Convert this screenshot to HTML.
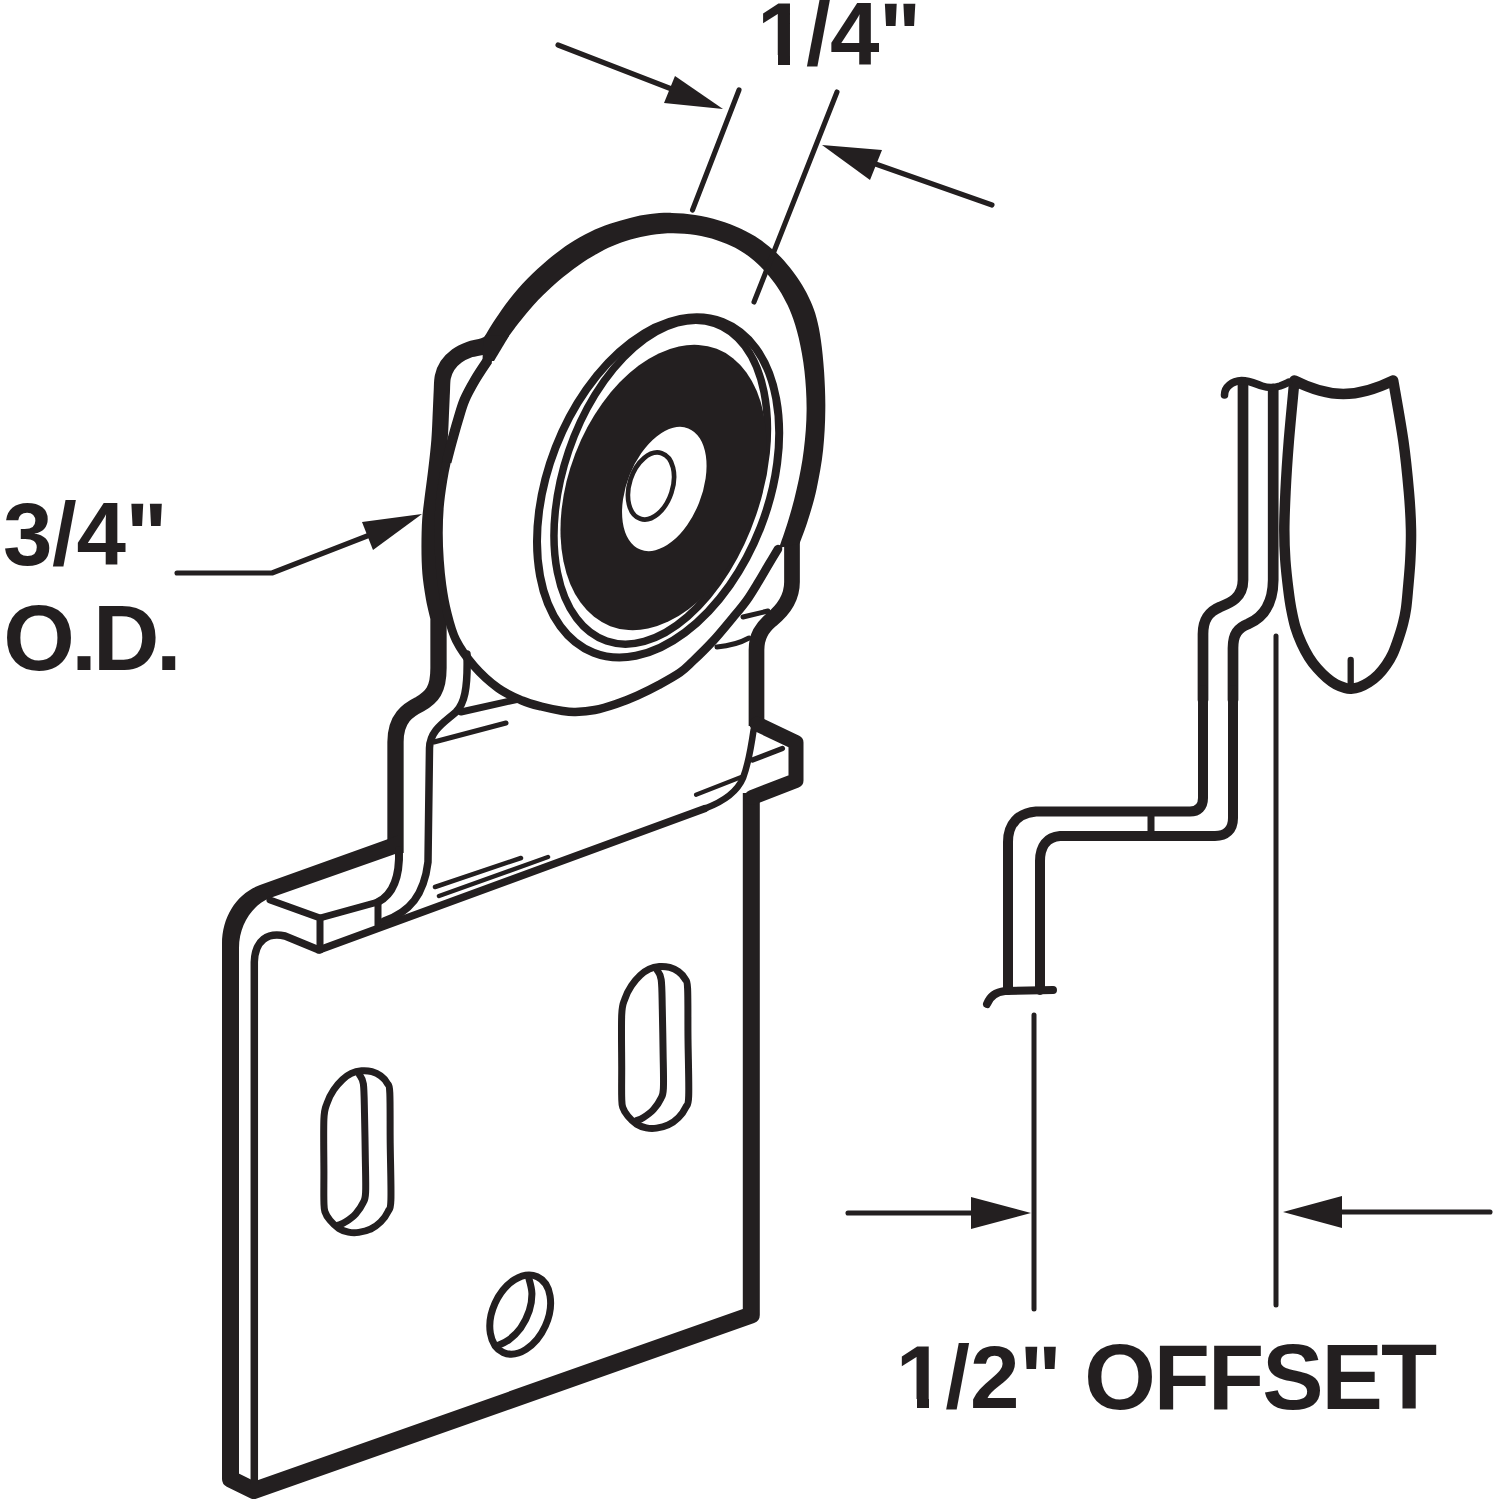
<!DOCTYPE html>
<html>
<head>
<meta charset="utf-8">
<title>Roller bracket 3/4" O.D. 1/2" offset</title>
<style>
html,body{margin:0;padding:0;background:#fff;}
body{width:1500px;height:1500px;overflow:hidden;position:relative;font-family:"Liberation Sans",sans-serif;}
svg{position:absolute;left:0;top:0;display:block;}
.lbl{position:absolute;font-family:"Liberation Sans",sans-serif;font-weight:bold;font-size:89px;line-height:89px;color:#231f20;white-space:pre;}
</style>
</head>
<body>
<svg width="1500" height="1500" viewBox="0 0 1500 1500" fill="none" stroke="#231f20" stroke-linecap="round" stroke-linejoin="round">
<g stroke-width="5.1">
<polyline points="177,573 272,573 380,531"/>
<polygon points="422,514 362,522 373,550" fill="#231f20" stroke="none"/>
</g>
<path stroke-width="16.3" stroke-linecap="butt" d="M500,338 C497.3,339.3 489.1,344.1 484,346 C478.9,347.9 474.1,347.8 469.6,349.5 C465.1,351.2 460.5,353.3 456.8,356 C453.1,358.7 449.8,362 447.5,365.5 C445.2,369 443.8,372.6 442.8,377 C441.9,381.4 442.1,386.5 441.8,392 C441.5,397.5 441.4,402 441,410 C440.6,418 440.3,429.5 439.5,440 C438.7,450.5 437.2,463 436,473 C434.8,483 433.4,492.2 432.5,500 C431.6,507.8 430.8,512.2 430.3,520 C429.8,527.8 429.6,538.2 429.6,547 C429.6,555.8 429.8,564.5 430.5,573 C431.2,581.5 432.7,590.5 434,598 C435.3,605.5 437.8,614.7 438.5,618 L438.5,668 C438.5,690 432,697 420,704 C408,710 395.5,718 395.5,742 L395.5,853"/>
<path stroke-width="15.7" stroke-linecap="butt" d="M792,538 L792,582 C792,600 781,612 771,620 C762,628 756.5,636 756.5,650 L756.5,726"/>
<path fill="#fff" stroke="none" d="M506,340 C511.5,333.3 515.7,326.6 521.1,320 C526.4,313.4 532,306.6 538.2,300.1 C544.4,293.6 551.4,287 558.1,281.2 C564.8,275.5 572.1,270 578.4,265.5 C584.8,261 590.5,257.5 596.2,254.3 C601.8,251 606.8,248.6 612.5,246.1 C618.2,243.7 624.2,241.4 630.6,239.6 C637.1,237.7 644.1,235.9 651.1,234.9 C658.2,233.8 665.7,233.2 673.1,233.2 C680.5,233.2 688.3,233.9 695.6,235.1 C702.9,236.3 710.2,238.1 716.8,240.2 C723.4,242.3 729.6,244.9 735.2,247.8 C740.8,250.7 745.8,254.1 750.5,257.8 C755.2,261.4 759.5,265.5 763.5,269.8 C767.5,274 771.1,278.5 774.5,283.1 C777.9,287.7 780.8,292.2 783.6,297.4 C786.5,302.6 789,307.5 791.5,314.3 C794.1,321.1 796.6,328.8 798.8,338.3 C800.9,347.8 803.2,359.4 804.5,371.4 C805.8,383.3 806.7,396.9 806.6,410 C806.5,423.1 805.5,436.9 803.8,450 C802.2,463.1 799.5,476.7 796.8,488.6 C794.2,500.6 790.9,511.9 787.9,521.8 C784.9,531.6 780.6,543.5 779,548 C777.4,552.5 779.7,546.3 778,549 C776.3,551.7 772.2,558.7 769,564 C765.8,569.3 762.7,575 759,581 C755.3,587 751.3,593.9 747,600 C742.7,606.1 738.7,610.7 733,617.5 C727.3,624.3 719.7,633.8 713,641 C706.3,648.2 698.5,655.8 693,661 C687.5,666.2 685.7,668.5 680,672.5 C674.3,676.5 665.8,681.1 658.7,685 C651.6,688.9 644.4,692.4 637.3,695.6 C630.2,698.8 623.1,701.6 616,704 C608.9,706.4 601.5,708.7 594.7,710 C588,711.3 580.8,711.8 575.5,712 C570.2,712.2 568.4,711.9 562.7,711 C557,710.1 548.1,708.2 541.3,706.5 C534.5,704.8 529.2,703.6 522,700.5 C514.8,697.4 506,693.8 498,688 C490,682.2 481,674 474,666 C467,658 460.5,649 456,640 C451.5,631 449.3,621.2 447,612 C444.7,602.8 443.2,593.7 442,585 C440.8,576.3 440.1,568.7 439.5,560 C438.9,551.3 438.5,541.8 438.5,533 C438.5,524.2 438.8,515.8 439.5,507 C440.2,498.2 441.8,487.5 443,480 C444.2,472.5 445.1,468.2 446.5,462 C447.9,455.8 449.6,450 451.5,443 C453.4,436 455.8,427.2 458,420 C460.2,412.8 461.7,406.7 464.5,400 C467.3,393.3 471.1,386.7 475,380 C478.9,373.3 482.8,366.7 488,360 C493.2,353.3 500.5,346.7 506,340Z"/>
<path fill="#231f20" stroke="none" d="M483.3,338.7 C485.3,335.5 490.8,326 495.1,319.5 C499.5,313 503.8,306.4 509.1,299.7 C514.5,293 520.6,285.8 527.1,279.1 C533.6,272.4 541.1,265.5 548.2,259.5 C555.2,253.6 562.6,248.1 569.6,243.5 C576.6,238.9 583.3,235.2 590,231.9 C596.7,228.7 603.3,226.2 610,223.8 C616.7,221.5 623.3,219.5 630,217.9 C636.7,216.3 643.3,214.9 650.3,214.1 C657.3,213.2 664.4,212.7 671.9,212.9 C679.4,213 687.4,213.7 695.2,215 C703.1,216.3 711.5,218.2 719.1,220.5 C726.7,222.8 734.2,225.7 740.9,228.8 C747.7,231.9 753.7,235.3 759.5,239.2 C765.3,243.2 770.6,247.5 775.8,252.3 C780.9,257.1 785.9,262.6 790.2,268.1 C794.6,273.6 798.7,279.6 802.1,285.1 C805.5,290.7 808.3,296.1 810.7,301.6 C813.1,307.1 814.9,311.8 816.6,318.2 C818.3,324.7 819.7,331.3 820.9,340.2 C822.2,349.2 823.3,360.1 824.1,371.8 C824.8,383.4 825.5,397 825.3,410 C825.2,423 824.5,436.9 823.1,450 C821.7,463.1 819.2,476.7 816.7,488.4 C814.2,500 810.9,510.9 808,520.1 C805.2,529.3 801,539.7 799.6,543.6 L779,548 C780.5,543.6 784.9,531.6 787.9,521.8 C790.9,511.9 794.2,500.6 796.8,488.6 C799.5,476.7 802.2,463.1 803.8,450 C805.5,436.9 806.5,423.1 806.6,410 C806.7,396.9 805.8,383.3 804.5,371.4 C803.2,359.4 800.9,347.8 798.8,338.3 C796.6,328.8 794.1,321.1 791.5,314.3 C789,307.5 786.5,302.6 783.6,297.4 C780.8,292.2 777.9,287.7 774.5,283.1 C771.1,278.5 767.5,274 763.5,269.8 C759.5,265.5 755.2,261.4 750.5,257.8 C745.8,254.1 740.8,250.7 735.2,247.8 C729.6,244.9 723.4,242.3 716.8,240.2 C710.2,238.1 702.9,236.3 695.6,235.1 C688.3,233.9 680.5,233.2 673.1,233.2 C665.7,233.2 658.2,233.8 651.1,234.9 C644.1,235.9 637.1,237.7 630.6,239.6 C624.2,241.4 618.2,243.7 612.5,246.1 C606.8,248.6 601.8,251 596.2,254.3 C590.5,257.5 584.8,261 578.4,265.5 C572.1,270 564.8,275.5 558.1,281.2 C551.4,287 544.4,293.6 538.2,300.1 C532,306.6 526.4,313.4 521.1,320 C515.7,326.6 508.5,336.7 506,340Z"/>
<path fill="#231f20" stroke="none" d="M483.3,338.7 L486,335 L509,336 L494,361 L482.5,361 Z"/>
<path stroke-width="8.5" d="M488,360 C485.8,363.3 478.9,373.3 475,380 C471.1,386.7 467.3,393.3 464.5,400 C461.7,406.7 460.2,412.8 458,420 C455.8,427.2 453.4,436 451.5,443 C449.6,450 447.9,455.8 446.5,462 C445.1,468.2 444.2,472.5 443,480 C441.8,487.5 440.2,498.2 439.5,507 C438.8,515.8 438.5,524.2 438.5,533 C438.5,541.8 438.9,551.3 439.5,560 C440.1,568.7 440.8,576.3 442,585 C443.2,593.7 444.7,602.8 447,612 C449.3,621.2 451.5,631 456,640 C460.5,649 467,658 474,666 C481,674 490,682.2 498,688 C506,693.8 514.8,697.4 522,700.5 C529.2,703.6 534.5,704.8 541.3,706.5 C548.1,708.2 557,710.1 562.7,711 C568.4,711.9 570.2,712.2 575.5,712 C580.8,711.8 588,711.3 594.7,710 C601.5,708.7 608.9,706.4 616,704 C623.1,701.6 630.2,698.8 637.3,695.6 C644.4,692.4 651.6,688.9 658.7,685 C665.8,681.1 674.3,676.5 680,672.5 C685.7,668.5 687.5,666.2 693,661 C698.5,655.8 706.3,648.2 713,641 C719.7,633.8 727.3,624.3 733,617.5 C738.7,610.7 742.7,606.1 747,600 C751.3,593.9 755.3,587 759,581 C762.7,575 765.8,569.3 769,564 C772.2,558.7 776.5,551.5 778,549"/>
<path stroke-width="10" stroke-linecap="butt" d="M488,360 C485.8,363.3 478.9,373.3 475,380 C471.1,386.7 467.3,393.3 464.5,400 C461.7,406.7 460.2,412.8 458,420 C455.8,427.2 453.4,436 451.5,443 C449.6,450 447.3,458.8 446.5,462"/>
<ellipse cx="658.1" cy="487.3" rx="110" ry="177.5" transform="rotate(21.3 658.1 487.3)" stroke-width="8"/>
<ellipse cx="660.7" cy="482.2" rx="97.2" ry="167.8" transform="rotate(18.8 660.7 482.2)" stroke-width="7.5"/>
<ellipse cx="663.5" cy="487.5" rx="94.5" ry="148.5" transform="rotate(21 663.5 487.5)" fill="#231f20" stroke="none"/>
<ellipse cx="664.3" cy="489" rx="37.4" ry="65.2" transform="rotate(21.6 664.3 489)" fill="#fff" stroke="none"/>
<ellipse cx="651" cy="486" rx="21.5" ry="34.5" transform="rotate(18 651 486)" stroke-width="4.7"/>
<g stroke-width="5.1">
<line x1="558" y1="45" x2="700" y2="100"/>
<polygon points="723,109 675,76 664,103" fill="#231f20" stroke="none"/>
<line x1="739" y1="90" x2="692.5" y2="210"/>
<line x1="837" y1="92" x2="754" y2="302"/>
<line x1="992" y1="205" x2="850" y2="155"/>
<polygon points="822,145 882,150 870,180" fill="#231f20" stroke="none"/>
</g>
<g>
<path fill="#231f20" stroke="none" d="M222,1010 L222,944 C222,915 238,893 260,885 L398,835.6 L398,853 L270,898 C252,905 239,925 239,948 L239,1010 Z"/>
<path stroke-width="17" stroke-linecap="butt" d="M230.5,1000 L230.5,1479 L254,1490.5 L751.3,1315 L751.3,793"/>
<path stroke-width="7.5" stroke-linecap="butt" d="M254.3,1484 L254.3,962 C255,940 268,932 285,936 L319,950"/>
<path stroke-width="7.5" d="M319,950 L705,808.5"/>
<path stroke-width="7" d="M270,900 L320,918 L320,950"/>
<path stroke-width="7" d="M320,918 L378,902 L378,925"/>
</g>
<g>
<path stroke-width="8" d="M399,850 C400,880 392,895 378,902"/>
<path stroke-width="7.5" d="M384,921 C410,912 424,895 428,862 L429.5,748 C430,730 445,722 456,712 C464,704 468,690 467,654"/>
<path stroke-width="7" d="M461,712 L519,699"/>
<path stroke-width="5" d="M434,742 L506,723"/>
<path stroke-width="4.5" d="M435,887 L521,858"/>
<path stroke-width="4.5" d="M439,896 L548,857"/>
<path stroke-width="6.5" d="M705,808.5 C725,801 738,790 743,778 C748,765 751,748 753.6,730"/>
<path stroke-width="4.3" d="M696,794.7 L741.3,777"/>
<path stroke-width="5" d="M717,647 C728,646 740,643 749,638"/>
<path stroke-width="5" d="M743,617 L768,611"/>
</g>
<g>
<path stroke-width="15" d="M757,724 L796,742.5 L796,780.5 L752,797.5"/>
<path stroke-width="5.3" d="M782.4,748.5 L752.5,760"/>
</g>
<g stroke-width="7"><path d="M323.9,1172 C323.9,1158.3 323.4,1130.7 323.9,1119.2 C324.4,1107.7 325.5,1108 327.1,1103.1 C328.7,1098.2 331.1,1093.8 333.7,1089.9 C336.3,1086 339.6,1082.3 342.5,1079.6 C345.4,1076.8 348.1,1074.9 351.3,1073.4 C354.5,1071.9 358.2,1071.1 361.6,1070.8 C365,1070.5 368.7,1070.8 371.9,1071.7 C375.1,1072.6 378.1,1074 380.7,1075.9 C383.3,1077.8 385.8,1080.5 387.3,1083.3 C388.8,1086.1 389.3,1082.9 389.8,1092.8 C390.3,1102.7 390,1124.8 390.2,1142.7 C390.4,1160.6 391.3,1188.4 390.9,1199.9 C390.5,1211.4 389.7,1207.9 388,1211.6 C386.3,1215.3 383.6,1219 380.7,1221.9 C377.8,1224.8 374.1,1227.5 370.4,1229.2 C366.7,1231 362.4,1231.9 358.7,1232.4 C355,1232.9 351.7,1232.8 348.4,1232.1 C345.1,1231.4 341.9,1230.5 338.9,1228.5 C335.8,1226.5 332.4,1223.2 330.1,1220.4 C327.8,1217.6 325.9,1214.8 324.9,1211.6 C323.9,1208.4 324.1,1207.9 323.9,1201.3 C323.7,1194.7 323.9,1185.7 323.9,1172Z"/><path d="M359.4,1074.5 C360.1,1076.1 362.5,1077.5 363.4,1084 C364.2,1090.5 364.2,1101.1 364.5,1113.3 C364.8,1125.5 365.1,1144.1 365.3,1157.3 C365.5,1170.5 366,1184.9 365.6,1192.5 C365.2,1200.1 364.8,1199.2 363.1,1202.8 C361.5,1206.3 358.6,1210.6 355.7,1213.8 C352.8,1217 348.4,1220 345.5,1221.9 C342.6,1223.8 339.6,1224.6 338.4,1225.1"/><path d="M621.7,1067.7 C621.7,1054 621.2,1026.4 621.7,1014.9 C622.2,1003.4 623.3,1003.7 624.9,998.8 C626.5,993.9 628.9,989.5 631.5,985.6 C634.1,981.7 637.4,978 640.3,975.3 C643.2,972.5 645.9,970.6 649.1,969.1 C652.3,967.6 656,966.8 659.4,966.5 C662.8,966.2 666.5,966.6 669.7,967.4 C672.9,968.3 675.9,969.7 678.5,971.6 C681.1,973.5 683.6,976.2 685.1,979 C686.6,981.8 687.1,978.6 687.6,988.5 C688.1,998.4 687.8,1020.6 688,1038.4 C688.2,1056.2 689.1,1084.1 688.7,1095.6 C688.3,1107.1 687.5,1103.6 685.8,1107.3 C684.1,1111 681.4,1114.7 678.5,1117.6 C675.6,1120.5 671.9,1123.2 668.2,1124.9 C664.5,1126.7 660.2,1127.6 656.5,1128.1 C652.8,1128.6 649.5,1128.5 646.2,1127.8 C642.9,1127.1 639.8,1126.2 636.7,1124.2 C633.7,1122.2 630.2,1118.9 627.9,1116.1 C625.6,1113.3 623.7,1110.5 622.7,1107.3 C621.7,1104.1 621.9,1103.6 621.7,1097 C621.5,1090.4 621.7,1081.4 621.7,1067.7Z"/><path d="M657.2,970.2 C657.9,971.8 660.4,973.2 661.2,979.7 C662.1,986.2 662,996.8 662.3,1009 C662.6,1021.2 662.9,1039.8 663.1,1053 C663.3,1066.2 663.8,1080.6 663.4,1088.2 C663,1095.8 662.6,1095 660.9,1098.5 C659.3,1102 656.4,1106.3 653.5,1109.5 C650.6,1112.7 646.2,1115.7 643.3,1117.6 C640.4,1119.5 637.4,1120.3 636.2,1120.8"/><ellipse cx="520.2" cy="1314.6" rx="27.6" ry="41.5" transform="rotate(24.2 520.2 1314.6)"/><path d="M528.5,1277 C529.1,1279.7 531.8,1287.7 531.9,1293.3 C532,1298.9 531.2,1304.9 529.3,1310.7 C527.4,1316.5 524.2,1323.1 520.7,1328 C517.2,1332.9 512.5,1337.1 508.5,1340.1 C504.6,1343.1 498.9,1344.8 497,1345.8"/></g>
<g>
<path stroke-width="10.5" d="M1294.4,380.5 C1293.5,390.6 1290.3,422.7 1288.8,441.3 C1287.3,459.9 1286.2,477.2 1285.5,492 C1284.8,506.8 1284.3,518.7 1284.3,530 C1284.3,541.3 1284.6,550 1285.3,560 C1286,570 1287.4,581.9 1288.4,590 C1289.4,598.1 1290,602.5 1291.2,608.7 C1292.4,614.9 1293.7,621.5 1295.4,627.3 C1297.1,633 1299.2,638.2 1301.5,643.2 C1303.8,648.2 1306.3,653 1308.9,657.2 C1311.5,661.4 1314.3,665 1317.3,668.4 C1320.3,671.8 1323.6,675.1 1326.7,677.7 C1329.8,680.4 1332.9,682.6 1336,684.3 C1339.1,686 1342.8,687.2 1345.3,688 C1347.8,688.8 1348.6,688.9 1350.9,688.8 C1353.2,688.6 1356.3,688.2 1359.3,687.1 C1362.3,686 1365.6,684.4 1368.7,682.4 C1371.8,680.4 1375,677.8 1378,674.9 C1381,672 1383.9,668.3 1386.4,664.7 C1388.9,661.1 1390.9,657.9 1392.9,653.5 C1394.9,649.1 1396.8,643.6 1398.5,638.5 C1400.2,633.4 1402,627.7 1403.2,622.7 C1404.5,617.7 1405.2,614.2 1406,608.7 C1406.8,603.2 1407.2,598.1 1407.9,590 C1408.6,581.9 1409.8,570 1410.3,560 C1410.8,550 1411.2,541.3 1411,530 C1410.8,518.7 1410.2,506.8 1408.9,492 C1407.6,477.2 1406,459.9 1403.4,441.3 C1400.8,422.7 1394.9,390.6 1393.2,380.5 C1372,391 1357,394 1343.3,394 C1330,394 1315,391 1294.4,380.5 Z"/>
<path stroke-width="6.3" d="M1350.7,660 L1350.7,684"/>
<path stroke-width="10.7" d="M1243,385 L1243,580 C1243,598 1230,603 1220,607 C1208,612 1203,620 1203,634 L1203,700"/>
<path stroke-width="10" d="M1203,690 L1203,798 C1203,807 1198,811.5 1190,811.5 L1036,811.5 C1018,813 1008,824 1008,842 L1008,990"/>
<path stroke-width="10.7" d="M1273.2,389 L1273.2,580 C1273,605 1262,618 1248,624 C1238,628 1233,634 1233,648 L1233,700"/>
<path stroke-width="10" d="M1233,690 L1233,818 C1233,830 1226,836 1215,836 L1060,836 C1047,837 1040,846 1040,861 L1040,990"/>
<path stroke-width="7.6" d="M1224.5,395 C1224.5,387 1232,381 1241.6,380.6 C1250,380.6 1256,384 1262,386 C1268,388 1274,388 1280,386 C1284,384.5 1286,383.5 1288.5,382.3"/>
<path stroke-width="7" d="M1151,815 L1151,832"/>
<path stroke-width="8" d="M987,1004 C990,996 996,992 1005,991 L1053,990"/>
<path stroke-width="5" d="M1034,1015 L1034,1309"/>
<path stroke-width="5" d="M1276,636 L1276,1305"/>
<path stroke-width="5.1" d="M848,1213 L980,1213"/>
<polygon points="1031,1213 971,1197 971,1229" fill="#231f20" stroke="none"/>
<path stroke-width="5.1" d="M1490,1212 L1335,1212"/>
<polygon points="1283,1212 1342,1196 1342,1228" fill="#231f20" stroke="none"/>
</g>
</svg>
<div class="lbl" style="left:757px;top:-10px;letter-spacing:-0.6px;">1/4"</div>
<div class="lbl" style="left:3px;top:489.6px;letter-spacing:-0.4px;">3/4"</div>
<div class="lbl" style="left:3.2px;top:592.4px;font-size:92px;line-height:92px;letter-spacing:-3.6px;">O.D.</div>
<div class="lbl" style="left:895.8px;top:1332.7px;">1/2"</div>
<div class="lbl" style="left:1084.3px;top:1330.8px;font-size:92px;line-height:92px;letter-spacing:-2px;">OFFSET</div>
<div style="position:absolute;left:761px;top:54.6px;width:16.6px;height:12px;background:#fff"></div>
<div style="position:absolute;left:789.7px;top:54.6px;width:15px;height:12px;background:#fff"></div>
<div style="position:absolute;left:899px;top:1398.6px;width:17.7px;height:12px;background:#fff"></div>
<div style="position:absolute;left:928.6px;top:1398.6px;width:15px;height:12px;background:#fff"></div>
</body>
</html>
